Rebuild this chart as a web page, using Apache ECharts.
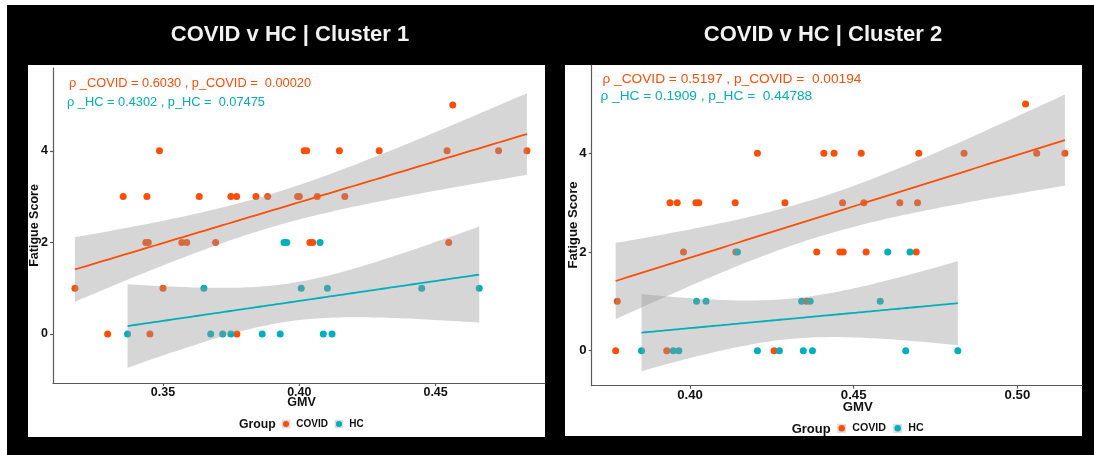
<!DOCTYPE html>
<html>
<head>
<meta charset="utf-8">
<title>COVID v HC – Fatigue Score vs GMV</title>
<script src="https://cdn.jsdelivr.net/npm/echarts@6/dist/echarts.min.js"></script>
<style>
  html, body { margin: 0; padding: 0; background: #ffffff; }
  #frame { position: absolute; left: 7px; top: 5px; right: 0; bottom: 0; width: 1087px; height: 450px; background: #000000; }
  .panel { position: absolute; background: #ffffff; }
  #p1 { left: 28px; top: 65px; width: 517px; height: 372px; }
  #p2 { left: 565px; top: 65px; width: 517px; height: 371px; }
  #chart { position: absolute; left: 0; top: 0; width: 1094px; height: 455px; }
</style>
</head>
<body>
<div id="frame"></div>
<div class="panel" id="p1"></div>
<div class="panel" id="p2"></div>
<div id="chart"></div>
<script>
// ---- Cluster 1 ----
const c1CovidGmv = [
  0.4563,
  0.3487, 0.4018, 0.4027, 0.4147, 0.4293, 0.4542, 0.4731, 0.4835,
  0.3354, 0.3441, 0.3633, 0.3749, 0.3770, 0.3841, 0.3884, 0.3994, 0.4000, 0.4066, 0.4167,
  0.3437, 0.3446, 0.3569, 0.3587, 0.3693, 0.4039, 0.4049, 0.4548,
  0.3177, 0.3500,
  0.3297, 0.3452, 0.3771
];
const c1CovidFatigue = [
  5,
  4, 4, 4, 4, 4, 4, 4, 4,
  3, 3, 3, 3, 3, 3, 3, 3, 3, 3, 3,
  2, 2, 2, 2, 2, 2, 2, 2,
  1, 1,
  0, 0, 0
];
const c1HcGmv = [
  0.3944, 0.3954, 0.4076,
  0.3650, 0.4007, 0.4103, 0.4449, 0.4660,
  0.3370, 0.3675, 0.3719, 0.3749, 0.3864, 0.3930, 0.4088, 0.4120
];
const c1HcFatigue = [
  2, 2, 2,
  1, 1, 1, 1, 1,
  0, 0, 0, 0, 0, 0, 0, 0
];

// ---- Cluster 2 ----
const c2CovidGmv = [
  0.5025,
  0.4206, 0.4409, 0.4440, 0.4523, 0.4699, 0.4837, 0.5059, 0.5145,
  0.3939, 0.3961, 0.4018, 0.4027, 0.4138, 0.4290, 0.4466, 0.4531, 0.4641, 0.4695,
  0.3980, 0.4140, 0.4387, 0.4458, 0.4468, 0.4538, 0.4691,
  0.3778, 0.4356,
  0.3773, 0.3929, 0.4257
];
const c2CovidFatigue = [
  5,
  4, 4, 4, 4, 4, 4, 4, 4,
  3, 3, 3, 3, 3, 3, 3, 3, 3, 3,
  2, 2, 2, 2, 2, 2, 2,
  1, 1,
  0, 0, 0
];
const c2HcGmv = [
  0.4145, 0.4604, 0.4672,
  0.4020, 0.4049, 0.4341, 0.4367, 0.4581,
  0.3852, 0.3949, 0.3966, 0.4206, 0.4273, 0.4346, 0.4374, 0.4659, 0.4818
];
const c2HcFatigue = [
  2, 2, 2,
  1, 1, 1, 1, 1,
  0, 0, 0, 0, 0, 0, 0, 0, 0
];

// Axis ticks and text
const c1GmvTicks = [0.35, 0.40, 0.45];
const c2GmvTicks = [0.40, 0.45, 0.50];
const fatigueTicks = [0, 2, 4];
const titles = ['COVID v HC | Cluster 1', 'COVID v HC | Cluster 2'];
const statsCovid = ['ρ _COVID = 0.6030 , p_COVID =  0.00020', 'ρ _COVID = 0.5197 , p_COVID =  0.00194'];
const statsHc = ['ρ _HC = 0.4302 , p_HC =  0.07475', 'ρ _HC = 0.1909 , p_HC =  0.44788'];
const groups = ['COVID', 'HC'];

const COVID_COL = '#FC4E07';
const HC_COL = '#00AFBB';
const BAND_COL = 'rgba(153,153,153,0.4)';
const FONT = '"Liberation Sans", Arial, Helvetica, sans-serif';

function pairs(xs, ys) { return xs.map((x, i) => [x, ys[i]]); }

// Student t quantile (0.975) by Cornish-Fisher expansion
function t975(df) {
  const z = 1.959964;
  const z3 = z * z * z, z5 = z3 * z * z, z7 = z5 * z * z;
  return z + (z3 + z) / (4 * df) + (5 * z5 + 16 * z3 + 3 * z) / (96 * df * df)
    + (3 * z7 + 19 * z5 + 17 * z3 - 15 * z) / (384 * df * df * df);
}

// Ordinary least squares fit with 95% confidence band for the mean
function lmFit(xs, ys, steps) {
  const n = xs.length;
  const mx = xs.reduce((a, b) => a + b, 0) / n;
  const my = ys.reduce((a, b) => a + b, 0) / n;
  let sxx = 0, sxy = 0;
  for (let i = 0; i < n; i++) { sxx += (xs[i] - mx) ** 2; sxy += (xs[i] - mx) * (ys[i] - my); }
  const b = sxy / sxx, a = my - b * mx;
  let sse = 0;
  for (let i = 0; i < n; i++) sse += (ys[i] - (a + b * xs[i])) ** 2;
  const s = Math.sqrt(sse / (n - 2));
  const t = t975(n - 2);
  const lo = Math.min(...xs), hi = Math.max(...xs);
  const line = [], upper = [], lower = [];
  for (let k = 0; k <= steps; k++) {
    const x = lo + (hi - lo) * k / steps;
    const yh = a + b * x;
    const se = s * Math.sqrt(1 / n + (x - mx) ** 2 / sxx);
    line.push([x, yh]);
    upper.push([x, yh + t * se]);
    lower.push([x, yh - t * se]);
  }
  return { line, upper, lower };
}

function bandSeries(fit, idx) {
  return {
    type: 'custom', xAxisIndex: idx, yAxisIndex: idx, z: 3, silent: true, clip: true,
    data: [fit.line[0]],
    renderItem: function (params, api) {
      const pts = fit.upper.map(p => api.coord(p))
        .concat(fit.lower.slice().reverse().map(p => api.coord(p)));
      return { type: 'polygon', shape: { points: pts }, style: { fill: BAND_COL } };
    }
  };
}

function panelSeries(idx, cx, cy, hx, hy) {
  const fc = lmFit(cx, cy, 80), fh = lmFit(hx, hy, 80);
  return [
    { type: 'scatter', name: 'COVID', xAxisIndex: idx, yAxisIndex: idx, z: 2, symbolSize: 7,
      itemStyle: { color: COVID_COL, opacity: 1 }, data: pairs(cx, cy) },
    { type: 'scatter', name: 'HC', xAxisIndex: idx, yAxisIndex: idx, z: 2, symbolSize: 7,
      itemStyle: { color: HC_COL, opacity: 1 }, data: pairs(hx, hy) },
    bandSeries(fc, idx),
    bandSeries(fh, idx),
    { type: 'line', xAxisIndex: idx, yAxisIndex: idx, z: 4, showSymbol: false, silent: true,
      lineStyle: { color: COVID_COL, width: 1.8 }, data: fc.line },
    { type: 'line', xAxisIndex: idx, yAxisIndex: idx, z: 4, showSymbol: false, silent: true,
      lineStyle: { color: HC_COL, width: 1.8 }, data: fh.line }
  ];
}

function xAxisFor(idx, min, max, ticks, fs) {
  return {
    type: 'value', gridIndex: idx, min: min, max: max,
    splitLine: { show: false },
    axisLine: { show: true, onZero: false, lineStyle: { color: '#5a5a5a', width: 1.2 } },
    axisTick: { show: true, length: 3, customValues: ticks, lineStyle: { color: '#5a5a5a', width: 1.2 } },
    axisLabel: { customValues: ticks, margin: 3, color: '#111', fontWeight: 'bold', fontSize: fs,
      fontFamily: FONT, formatter: v => v.toFixed(2) }
  };
}

function yAxisFor(idx, min, max, fs) {
  return {
    type: 'value', gridIndex: idx, min: min, max: max,
    splitLine: { show: false },
    axisLine: { show: true, onZero: false, lineStyle: { color: '#5a5a5a', width: 1.2 } },
    axisTick: { show: true, length: 3, customValues: fatigueTicks, lineStyle: { color: '#5a5a5a', width: 1.2 } },
    axisLabel: { customValues: fatigueTicks, margin: 5, color: '#111', fontWeight: 'bold', fontSize: fs,
      fontFamily: FONT, formatter: v => String(v) }
  };
}

function txt(x, y, text, font, fill, align, extra) {
  return Object.assign({
    type: 'text', x: x, y: y, z: 100, silent: true,
    style: { text: text, font: font, fill: fill, align: align || 'left', verticalAlign: 'middle' }
  }, extra || {});
}

function legend(gx, gy, gfs, kx, kxHc, ky, ks, lfs) {
  const items = [txt(gx, gy, 'Group', '700 ' + gfs + 'px ' + FONT, '#111')];
  [[kx, COVID_COL, groups[0]], [kxHc, HC_COL, groups[1]]].forEach(([x, col, label]) => {
    items.push({ type: 'rect', z: 100, silent: true,
      shape: { x: x - ks / 2, y: ky - ks / 2, width: ks, height: ks }, style: { fill: '#dcdcdc' } });
    items.push({ type: 'circle', z: 101, silent: true,
      shape: { cx: x, cy: ky, r: ks * 0.36 }, style: { fill: col } });
    items.push(txt(x + ks / 2 + 6, ky, label, '700 ' + lfs + 'px ' + FONT, '#111'));
  });
  return items;
}

const chart = echarts.init(document.getElementById('chart'), null, { renderer: 'canvas' });

chart.setOption({
  backgroundColor: 'transparent',
  animation: false,
  grid: [
    { left: 53, top: 68, width: 492, height: 315 },
    { left: 591.7, top: 65, width: 490.3, height: 320.7 }
  ],
  xAxis: [
    xAxisFor(0, 0.30965, 0.49013, c1GmvTicks, 12.5),
    xAxisFor(1, 0.36998, 0.51973, c2GmvTicks, 13.2)
  ],
  yAxis: [
    yAxisFor(0, -1.070, 5.808, 12.5),
    yAxisFor(1, -0.709, 5.789, 13.2)
  ],
  series: [].concat(
    panelSeries(0, c1CovidGmv, c1CovidFatigue, c1HcGmv, c1HcFatigue),
    panelSeries(1, c2CovidGmv, c2CovidFatigue, c2HcGmv, c2HcFatigue)
  ),
  graphic: [].concat(
    [
      txt(290, 35, titles[0], '700 22px ' + FONT, '#f2f2f2', 'center'),
      txt(823, 35, titles[1], '700 22px ' + FONT, '#f2f2f2', 'center'),
      txt(69, 83.5, statsCovid[0], '400 12.8px ' + FONT, COVID_COL),
      txt(67, 102, statsHc[0], '400 12.8px ' + FONT, HC_COL),
      txt(602.5, 79, statsCovid[1], '400 13.7px ' + FONT, COVID_COL),
      txt(600.5, 96.5, statsHc[1], '400 13.7px ' + FONT, HC_COL),
      txt(301.5, 403, 'GMV', '700 12.5px ' + FONT, '#111', 'center'),
      txt(857.7, 407, 'GMV', '700 13.2px ' + FONT, '#111', 'center'),
      txt(35, 225.5, 'Fatigue Score', '700 12.5px ' + FONT, '#111', 'center', { rotation: Math.PI / 2 }),
      txt(573, 225, 'Fatigue Score', '700 13.2px ' + FONT, '#111', 'center', { rotation: Math.PI / 2 })
    ],
    legend(239, 425, 12.3, 286, 339, 424, 8.5, 10),
    legend(791.7, 429.5, 13, 841.7, 897.7, 428.3, 9, 10.7)
  )
});
</script>
</body>
</html>
